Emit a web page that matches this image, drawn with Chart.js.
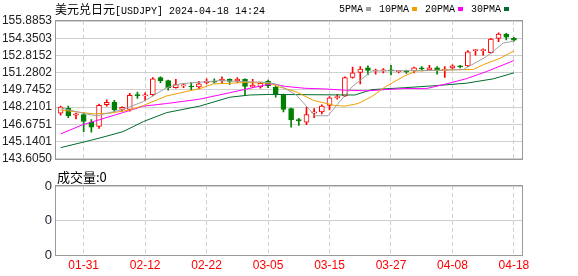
<!DOCTYPE html>
<html>
<head>
<meta charset="utf-8">
<script src="https://cdn.jsdelivr.net/npm/chart.js@4.4.0/dist/chart.umd.min.js"></script>
<style>
  body { margin: 0; background: #fff; }
  #wrap { position: relative; width: 578px; height: 276px; overflow: hidden; font-family: "Noto Sans CJK SC", sans-serif; }
  #kline { position: absolute; left: 0; top: 0; }
  #vol { position: absolute; left: 0; top: 170px; }
  .txt { position: absolute; white-space: nowrap; color: #000; }
  .mono { font-family: "Liberation Mono", monospace; font-size: 10px; }
  #legend { position: absolute; left: 339px; top: 2px; display: flex; align-items: center; height: 14px; }
  #legend .item { display: flex; align-items: center; margin-right: 8px; }
  #legend .box { width: 5px; height: 4px; margin-left: 3px; }
</style>
</head>
<body>
<div id="wrap">
  <canvas id="kline" width="578" height="170"></canvas>
  <canvas id="vol" width="578" height="106"></canvas>
  <div class="txt" style="left:55px;top:1px;font-size:12px;line-height:16px">美元兑日元<span class="mono">[USDJPY] 2024-04-18 14:24</span></div>
  <div id="legend"></div>
  <div class="txt" style="left:57px;top:169px;font-size:13px;line-height:16px">成交量:0</div>
</div>
<script>
// 日期 (交易日)
const dates = ['01-26','01-29','01-30','01-31','02-01','02-02','02-05','02-06','02-07','02-08',
  '02-09','02-12','02-13','02-14','02-15','02-16','02-19','02-20','02-21','02-22',
  '02-23','02-26','02-27','02-28','02-29','03-01','03-04','03-05','03-06','03-07',
  '03-08','03-11','03-12','03-13','03-14','03-15','03-18','03-19','03-20','03-21',
  '03-22','03-25','03-26','03-27','03-28','03-29','04-01','04-02','04-03','04-04',
  '04-05','04-08','04-09','04-10','04-11','04-12','04-15','04-16','04-17','04-18'];

const opens = [147.67,148.10,147.50,147.55,146.87,146.48,148.44,148.64,148.01,148.01,
  149.29,149.21,149.32,150.85,150.57,149.94,150.11,150.06,150.00,150.40,
  150.49,150.57,150.68,150.57,150.68,150.00,150.00,150.51,150.00,149.26,
  148.07,147.10,146.87,147.67,147.78,148.36,149.04,149.21,150.85,151.31,
  151.71,151.43,151.43,151.51,151.37,151.39,151.43,151.68,151.54,151.71,
  151.48,151.71,151.85,151.88,153.24,153.24,153.07,154.33,154.72,154.35];
const highs = [148.30,148.30,147.67,147.72,147.10,148.49,148.87,148.81,148.24,149.43,
  149.55,149.49,150.85,150.90,150.62,150.68,150.34,150.40,150.51,150.74,
  150.74,150.91,150.74,150.85,150.74,150.68,150.45,150.62,150.06,149.38,
  148.13,147.21,148.19,148.07,148.41,149.15,149.32,150.91,151.77,151.82,
  151.88,151.60,151.65,151.94,151.48,151.51,151.77,151.82,151.94,151.82,
  151.82,151.99,151.94,153.24,153.35,153.41,154.33,154.84,154.78,154.44];
const lows = [147.50,147.27,147.16,146.02,145.97,146.31,148.30,147.78,147.84,147.84,
  148.98,148.81,149.21,150.40,149.72,149.89,149.94,149.77,149.83,150.28,
  150.34,150.40,150.23,150.40,149.26,149.94,149.89,149.94,149.09,147.78,
  146.42,146.59,146.65,147.27,147.61,147.95,148.92,149.15,150.79,150.28,
  151.08,151.14,151.26,151.08,151.26,151.22,151.26,151.43,151.48,151.14,
  150.85,151.60,151.71,151.82,152.84,152.84,153.01,154.04,154.21,154.09];
const closes = [148.21,147.44,147.61,146.93,146.42,148.36,148.64,147.95,148.19,149.26,
  149.23,149.26,150.74,150.57,149.94,150.23,150.17,150.00,150.28,150.51,
  150.43,150.68,150.51,150.68,150.06,150.17,150.34,150.11,149.38,148.01,
  147.10,146.99,147.55,147.78,148.30,149.04,149.15,150.85,151.26,151.60,
  151.48,151.48,151.54,151.45,151.43,151.34,151.71,151.62,151.71,151.48,
  151.56,151.88,151.79,153.13,153.30,153.30,154.27,154.72,154.44,154.18];

// 均线 (读图取点, 位置为K线序号)
const ma5Pos = [0,3.4,4.7,6.4,8.2,10.8,13.8,15.5,20.7,27.2,28.5,30.7,33.1,34.8,37.9,40.5,48.5,52.4,55.4,56.7,57.6,59];
const ma5Val = [148.15,147.59,147.44,147.72,148.01,148.72,149.94,150.28,150.57,150.40,150.15,149.29,147.44,147.44,150.00,151.43,151.48,151.56,152.70,153.41,153.92,154.09];
const ma10Pos = [0,2.9,4.2,6.4,9.0,10.8,13.8,18.1,19.9,24.2,27.2,28.5,30.7,32.9,35.7,37.0,38.7,40.5,42.2,44.8,46.3,51.1,53.7,55.0,57.2,59];
const ma10Val = [147.95,147.72,147.61,147.67,147.95,148.36,149.21,149.86,150.28,150.40,150.34,150.00,149.57,148.81,148.36,148.30,148.53,149.15,150.00,151.00,151.43,151.54,151.56,151.99,152.56,153.22];
const ma20Pos = [0,2.9,5.1,8.1,10.8,13.8,18.1,22.0,26.4,27.7,29.2,31.8,34.4,37.0,40.0,42.2,44.8,47.6,50.2,52.8,55.4,59];
const ma20Val = [145.82,146.65,147.10,147.72,148.30,148.53,148.92,149.49,150.15,150.28,150.06,149.89,149.83,149.72,149.66,149.77,149.87,149.86,150.28,150.74,151.37,152.36];
const ma30Pos = [0,2.9,5.1,8.1,10.8,13.8,18.1,22.0,24.6,27.2,38.3,40.5,44.8,48.5,52.8,56.3,59];
const ma30Val = [144.60,145.08,145.46,146.02,146.93,147.72,148.30,149.09,149.29,149.34,149.29,149.77,149.94,150.11,150.34,150.73,151.26];

const volumes = [0,0,0,0,0,0,0,0,0,0,0,0,0,0,0,0,0,0,0,0,0,0,0,0,0,0,0,0,0,0,
  0,0,0,0,0,0,0,0,0,0,0,0,0,0,0,0,0,0,0,0,0,0,0,0,0,0,0,0,0,0];

const yTicks = [143.6050,145.1401,146.6751,148.2101,149.7452,151.2802,152.8152,154.3503,155.8853];
const xTickLabels = ['01-31','02-12','02-22','03-05','03-15','03-27','04-08','04-18'];
const volTicks = [0,1,2,3,4];
const volTickLabels = ['0','0','0','0','0'];

const maNames = ['5PMA','10PMA','20PMA','30PMA'];
const maColors = ['#a0a0a0','#f0a000','#ff00ff','#006b2c'];

const upColor = '#ff0000';
const downColor = '#008000';
const xTickIdx = xTickLabels.map(l => dates.indexOf(l));

// 图例
const legendDiv = document.getElementById('legend');
maNames.forEach((n, i) => {
  const item = document.createElement('div');
  item.className = 'item';
  item.innerHTML = '<span class="mono">' + n + '</span><span class="box" style="background:' + maColors[i] + '"></span>';
  legendDiv.appendChild(item);
});

// 边框
const frame = {
  id: 'frame',
  afterDraw(chart) {
    const { ctx, chartArea: a } = chart;
    ctx.save();
    ctx.strokeStyle = '#999';
    ctx.lineWidth = 1;
    ctx.strokeRect(Math.round(a.left) - 0.5, Math.round(a.top) - 0.5,
      Math.round(a.right - a.left) + 1, Math.round(a.bottom - a.top) + 1);
    ctx.restore();
  }
};

const isUp = dates.map((d, i) => closes[i] >= opens[i]);

function maDataset(pos, val, i) {
  return {
    type: 'line',
    data: pos.map((p, k) => ({ x: p, y: val[k] })),
    borderColor: maColors[i],
    borderWidth: 1,
    pointRadius: 0,
    tension: 0,
    fill: false,
    order: 0
  };
}

const xScaleBase = {
  type: 'linear',
  min: -0.6,
  max: 60.05,
  offset: false,
  grid: { color: '#d0d0d0', drawTicks: false, offset: false },
  border: { display: false, dash: [4, 3] },
  afterBuildTicks: s => { s.ticks = xTickIdx.map(v => ({ value: v })); }
};

new Chart(document.getElementById('kline'), {
  type: 'bar',
  data: {
    datasets: [
      maDataset(ma5Pos, ma5Val, 0),
      maDataset(ma10Pos, ma10Val, 1),
      maDataset(ma20Pos, ma20Val, 2),
      maDataset(ma30Pos, ma30Val, 3),
      {
        // 实体
        data: dates.map((d, i) => ({ x: i, y: [Math.min(opens[i], closes[i]), Math.max(opens[i], closes[i])] })),
        backgroundColor: isUp.map(u => u ? '#ffffff' : downColor),
        borderColor: isUp.map(u => u ? upColor : downColor),
        borderWidth: 1,
        borderSkipped: false,
        barThickness: 5,
        minBarLength: 1,
        grouped: false,
        order: 1
      },
      {
        // 影线
        data: dates.map((d, i) => ({ x: i, y: [lows[i], highs[i]] })),
        backgroundColor: isUp.map(u => u ? upColor : downColor),
        borderWidth: 0,
        barThickness: 1,
        grouped: false,
        order: 2
      }
    ]
  },
  options: {
    responsive: false,
    animation: false,
    layout: { padding: { top: 21, right: 56, bottom: 5, left: 0 } },
    plugins: { legend: { display: false }, tooltip: { enabled: false } },
    scales: {
      x: Object.assign({}, xScaleBase, {
        ticks: { display: false },
        afterFit: s => { s.height = 0; }
      }),
      y: {
        min: yTicks[0],
        max: yTicks[yTicks.length - 1],
        beginAtZero: false,
        afterBuildTicks: s => { s.ticks = yTicks.map(v => ({ value: v })); },
        ticks: {
          callback: v => v.toFixed(4),
          color: '#222',
          padding: 4,
          font: { family: 'Liberation Sans', size: 12 }
        },
        grid: { color: '#d0d0d0', drawTicks: false },
        border: { display: false },
        afterFit: s => { s.width = 56; }
      }
    }
  },
  plugins: [frame]
});

new Chart(document.getElementById('vol'), {
  type: 'bar',
  data: {
    datasets: [{
      data: volumes.map((v, i) => ({ x: i, y: v })),
      backgroundColor: isUp.map(u => u ? upColor : downColor),
      borderWidth: 0,
      inflateAmount: 0,
      barThickness: 5
    }]
  },
  options: {
    responsive: false,
    animation: false,
    layout: { padding: { top: 16, right: 56, bottom: 0, left: 0 } },
    plugins: { legend: { display: false }, tooltip: { enabled: false } },
    scales: {
      x: Object.assign({}, xScaleBase, {
        ticks: {
          autoSkip: false,
          maxRotation: 0,
          padding: 3,
          color: '#ff0000',
          font: { family: 'Liberation Sans', size: 12 },
          callback: v => dates[v]
        },
        afterFit: s => { s.height = 21; }
      }),
      y: {
        min: 0,
        max: 4,
        afterBuildTicks: s => { s.ticks = volTicks.map(v => ({ value: v })); },
        ticks: {
          callback: (v, i) => volTickLabels[i],
          color: '#223',
          padding: 4,
          font: { family: 'Liberation Sans', size: 13 }
        },
        grid: { color: '#d0d0d0', drawTicks: false },
        border: { display: false },
        afterFit: s => { s.width = 56; }
      }
    }
  },
  plugins: [frame]
});
</script>
</body>
</html>
